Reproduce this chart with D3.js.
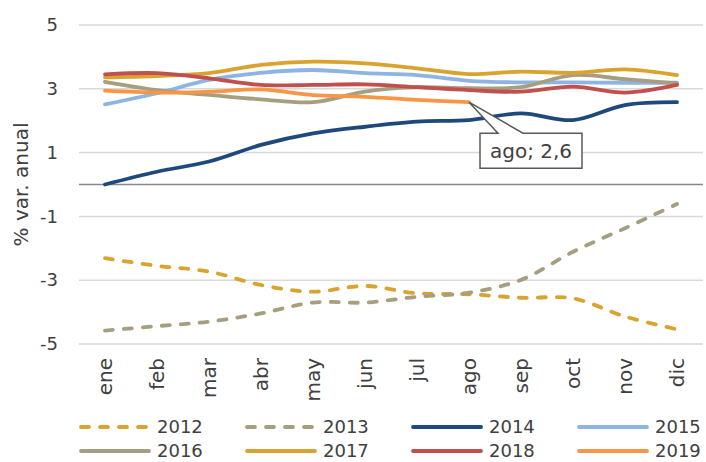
<!DOCTYPE html>
<html>
<head>
<meta charset="utf-8">
<script src="https://cdn.jsdelivr.net/npm/d3@7"></script>
<style>
  body { margin: 0; background: #fff; }
  text { font-family: 'DejaVu Sans', sans-serif; fill: #404040; }
</style>
</head>
<body>
<div class="graph"></div>
<script>
const months = ['ene', 'feb', 'mar', 'abr', 'may', 'jun', 'jul', 'ago', 'sep', 'oct', 'nov', 'dic'];
const yTicks = [-5, -3, -1, 1, 3, 5];

const v2012 = [-2.31, -2.55, -2.73, -3.15, -3.36, -3.18, -3.41, -3.44, -3.55, -3.57, -4.14, -4.54];
const v2013 = [-4.58, -4.44, -4.30, -4.04, -3.70, -3.70, -3.52, -3.39, -2.99, -2.11, -1.37, -0.61];
const v2014 = [0.00, 0.40, 0.72, 1.24, 1.60, 1.81, 1.97, 2.02, 2.23, 2.02, 2.49, 2.58];
const v2015 = [2.51, 2.86, 3.28, 3.50, 3.59, 3.49, 3.43, 3.25, 3.20, 3.20, 3.19, 3.19];
const v2016 = [3.22, 2.96, 2.81, 2.67, 2.58, 2.91, 3.05, 3.02, 3.05, 3.43, 3.30, 3.17];
const v2017 = [3.36, 3.40, 3.49, 3.75, 3.85, 3.80, 3.64, 3.46, 3.54, 3.50, 3.61, 3.43];
const v2018 = [3.45, 3.49, 3.33, 3.12, 3.12, 3.14, 3.05, 2.96, 2.91, 3.07, 2.88, 3.12];
const v2019 = [2.94, 2.88, 2.91, 2.98, 2.80, 2.75, 2.65, 2.58];

const series = [
    { name: '2012', values: v2012, color: '#DAA32F', dash: true },
    { name: '2013', values: v2013, color: '#A59F80', dash: true },
    { name: '2014', values: v2014, color: '#1F497D', dash: false },
    { name: '2015', values: v2015, color: '#8DB4E2', dash: false },
    { name: '2016', values: v2016, color: '#A59F80', dash: false },
    { name: '2017', values: v2017, color: '#DAA32F', dash: false },
    { name: '2018', values: v2018, color: '#C0504D', dash: false },
    { name: '2019', values: v2019, color: '#F79646', dash: false }
];

const width = 706, height = 462;
const margin = { top: 25, right: 3, bottom: 118, left: 79 };
const chartWidth = width - margin.left - margin.right;
const chartHeight = height - margin.top - margin.bottom;

const svg = d3.select('.graph')
    .append('svg')
    .attr('width', width)
    .attr('height', height);

const chart = svg.append('g')
    .attr('transform', `translate(${margin.left},${margin.top})`);

const xScale = d3.scaleBand()
    .domain(months)
    .range([0, chartWidth]);
const yScale = d3.scaleLinear()
    .domain([-5, 5])
    .range([chartHeight, 0]);

// grid
chart.selectAll('.grid')
    .data(yTicks)
    .enter()
    .append('line')
    .attr('x1', 0)
    .attr('x2', chartWidth)
    .attr('y1', d => yScale(d))
    .attr('y2', d => yScale(d))
    .attr('stroke', '#D9D9D9')
    .attr('stroke-width', 1.5);

// y axis labels (hyphen minus like the original)
const yAxis = d3.axisLeft(yScale)
    .tickValues(yTicks)
    .tickSize(0)
    .tickPadding(21)
    .tickFormat(d => String(d));
const gy = chart.append('g').call(yAxis);
gy.select('.domain').remove();
gy.selectAll('text')
    .style('font-family', "'DejaVu Sans', sans-serif")
    .style('font-size', '18px')
    .attr('fill', '#404040');

// zero line
chart.append('line')
    .attr('x1', 0)
    .attr('x2', chartWidth)
    .attr('y1', yScale(0))
    .attr('y2', yScale(0))
    .attr('stroke', '#898989')
    .attr('stroke-width', 1.5);

// month labels
const xAxis = d3.axisBottom(xScale).tickSize(0).tickPadding(0);
const gx = chart.append('g')
    .attr('transform', `translate(0,${chartHeight})`)
    .call(xAxis);
gx.select('.domain').remove();
gx.selectAll('text')
    .attr('transform', 'rotate(-90)')
    .attr('x', -14)
    .attr('y', 0)
    .attr('dy', '0.35em')
    .style('text-anchor', 'end')
    .style('font-family', "'DejaVu Sans', sans-serif")
    .style('font-size', '20px')
    .attr('fill', '#404040');

// lines
const line = d3.line()
    .x((d, i) => xScale(months[i]) + xScale.bandwidth() / 2)
    .y(d => yScale(d))
    .curve(d3.curveCatmullRom.alpha(0.5));

chart.selectAll('.series')
    .data(series)
    .enter()
    .append('path')
    .attr('d', d => line(d.values))
    .attr('fill', 'none')
    .attr('stroke', d => d.color)
    .attr('stroke-width', 3.8)
    .attr('stroke-linecap', 'round')
    .attr('stroke-linejoin', 'round')
    .attr('stroke-dasharray', d => d.dash ? '8,11' : null);

// callout for last 2019 point
const lastIdx = v2019.length - 1;
const px = xScale(months[lastIdx]) + xScale.bandwidth() / 2;
const py = yScale(v2019[lastIdx]);
const bx = px + 11, by = py + 31, bw = 102, bh = 35;
const callout = chart.append('g');
callout.append('path')
    .attr('d', `M${bx},${by} L${bx + 18},${by} L${px},${py} L${bx + 43},${by} L${bx + bw},${by} L${bx + bw},${by + bh} L${bx},${by + bh} Z`)
    .attr('fill', '#fff')
    .attr('stroke', '#595959')
    .attr('stroke-width', 1.5);
callout.append('text')
    .attr('x', bx + bw / 2)
    .attr('y', by + bh / 2)
    .attr('dy', '0.35em')
    .style('text-anchor', 'middle')
    .style('font-size', '20px')
    .text(`${months[lastIdx]}; ${d3.format('.1f')(v2019[lastIdx]).replace('.', ',')}`);

// y title
svg.append('text')
    .attr('transform', `translate(28,${margin.top + chartHeight / 2}) rotate(-90)`)
    .style('text-anchor', 'middle')
    .style('font-size', '20px')
    .text('% var. anual');

// legend
const legend = svg.append('g');
const items = legend.selectAll('.item')
    .data(series)
    .enter()
    .append('g')
    .attr('transform', (d, i) => `translate(${81 + (i % 4) * 166},${427 + Math.floor(i / 4) * 24})`);
items.append('line')
    .attr('x1', 0)
    .attr('x2', 68)
    .attr('stroke', d => d.color)
    .attr('stroke-width', 3.8)
    .attr('stroke-linecap', 'round')
    .attr('stroke-dasharray', d => d.dash ? '8,11' : null);
items.append('text')
    .attr('x', 76)
    .attr('dy', '0.35em')
    .style('font-size', '18px')
    .text(d => d.name);
</script>
</body>
</html>
